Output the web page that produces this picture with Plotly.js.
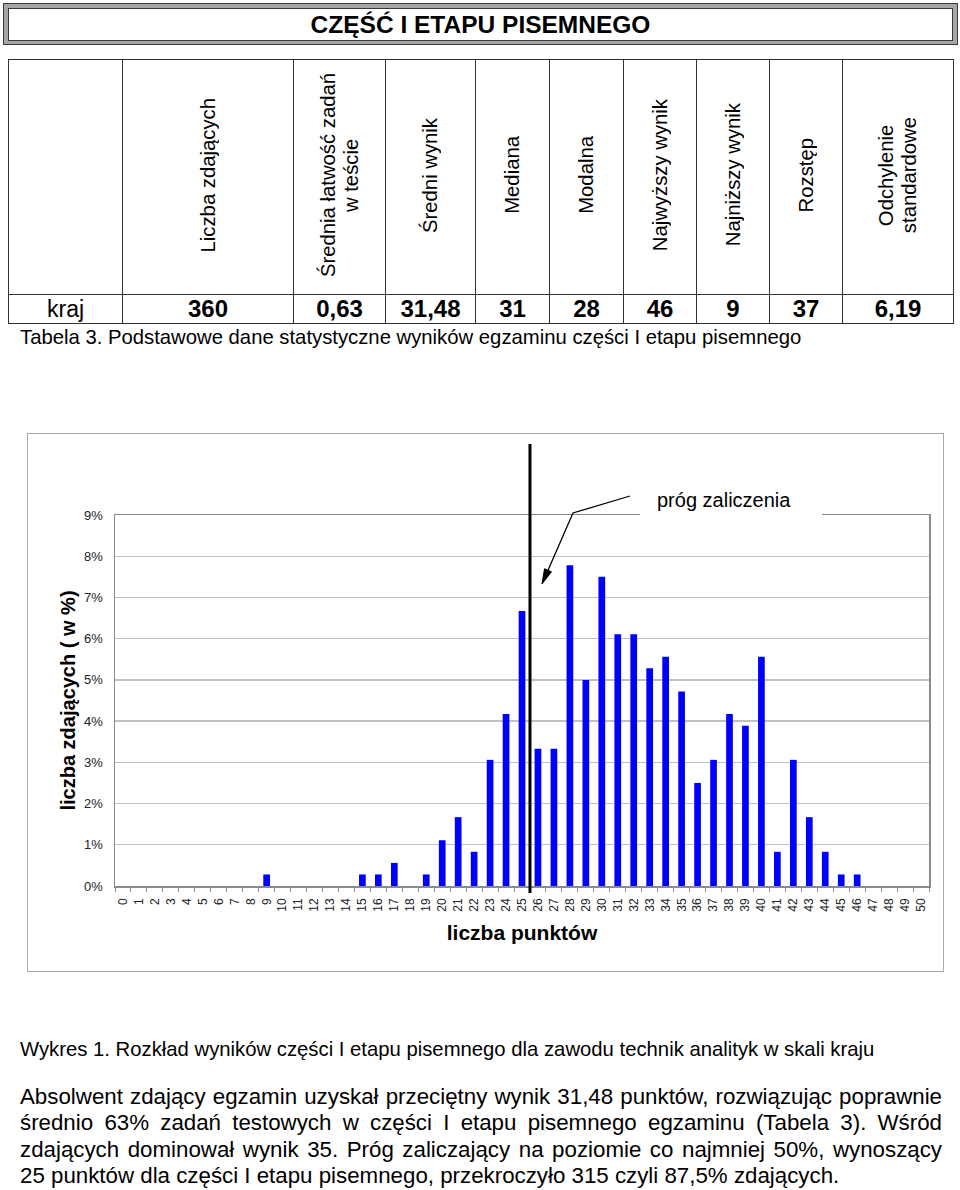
<!DOCTYPE html>
<html>
<head>
<meta charset="utf-8">
<script src="https://cdn.plot.ly/plotly-3.0.1.min.js"></script>
<style>
  html, body { margin:0; padding:0; }
  body { width:960px; height:1190px; position:relative; background:#fff; overflow:hidden;
         font-family:"Liberation Sans", Arial, sans-serif; color:#000; }
  .abs { position:absolute; }
  #hdrOuter { left:3px; top:3px; width:955px; height:42px; background:#a6a6a6;
              border:1px solid #3a3a3a; box-sizing:border-box; }
  #hdrInner { left:8px; top:8px; width:945px; height:33px; background:#fff;
              border:1px solid #3a3a3a; box-sizing:border-box; text-align:center;
              font-weight:bold; font-size:24.5px; line-height:31px; }
  #tbl { left:8px; top:59px; width:945px; border-collapse:collapse; table-layout:fixed; }
  #tbl td { border:1.5px solid #333; padding:0; text-align:center; vertical-align:middle; overflow:hidden; }
  #tbl tr.h td { height:234px; }
  #tbl tr.d td { height:28px; font-weight:bold; font-size:24px; line-height:28px; }
  #tbl tr.d td.lbl { font-weight:normal; font-size:23px; }
  .rot { display:inline-block; writing-mode:vertical-rl; transform:rotate(180deg);
         font-size:20.3px; line-height:23px; text-align:center; white-space:pre-line; }
  .txt { font-size:20.3px; line-height:26px; white-space:nowrap; }
  .ptxt { font-size:22.3px; line-height:26.3px; white-space:nowrap; }
  .jl { width:922px; text-align:justify; text-align-last:justify; }
  #chartWrap { left:27px; top:433px; width:917px; height:539px; }
  #chartBorder { left:27px; top:433px; width:917px; height:539px; box-sizing:border-box;
                 border:1.5px solid #a8a8a8; pointer-events:none; }
</style>
</head>
<body>
<div id="hdrOuter" class="abs"></div>
<div id="hdrInner" class="abs"></div>
<table id="tbl" class="abs"></table>
<div id="caption1" class="abs txt" style="left:20px; top:324px;"></div>
<div id="chartWrap" class="abs"></div>
<div id="chartBorder" class="abs"></div>
<div id="caption2" class="abs txt" style="left:20px; top:1036px;"></div>
<div id="para" class="abs" style="left:20px; top:1084px;"></div>

<script>
// ---------------- DATA ----------------
var sectionTitle = 'CZĘŚĆ I ETAPU PISEMNEGO';

var tableHeaders = [
  'Liczba zdających',
  'Średnia łatwość zadań\nw teście',
  'Średni wynik',
  'Mediana',
  'Modalna',
  'Najwyższy wynik',
  'Najniższy wynik',
  'Rozstęp',
  'Odchylenie\nstandardowe'
];
var tableRowLabel = 'kraj';
var tableValues = ['360', '0,63', '31,48', '31', '28', '46', '9', '37', '6,19'];
var tableCaption = 'Tabela 3. Podstawowe dane statystyczne wyników egzaminu części I etapu pisemnego';

var scores = [0,1,2,3,4,5,6,7,8,9,10,11,12,13,14,15,16,17,18,19,20,21,22,23,24,25,
              26,27,28,29,30,31,32,33,34,35,36,37,38,39,40,41,42,43,44,45,46,47,48,49,50];
var scoreLabels = ['0','1','2','3','4','5','6','7','8','9','10','11','12','13','14','15','16','17',
                   '18','19','20','21','22','23','24','25','26','27','28','29','30','31','32','33',
                   '34','35','36','37','38','39','40','41','42','43','44','45','46','47','48','49','50'];
// percentage of candidates (w %) per score
var percentShare = [0,0,0,0,0,0,0,0,0,0.28,
                    0,0,0,0,0,0.28,0.28,0.56,0,0.28,
                    1.11,1.67,0.83,3.06,4.17,6.67,3.33,3.33,7.78,5.00,
                    7.50,6.11,6.11,5.28,5.56,4.72,2.50,3.06,4.17,3.89,
                    5.56,0.83,3.06,1.67,0.83,0.28,0.28,0,0,0,
                    0];
var yTickVals = [0,1,2,3,4,5,6,7,8,9];
var yTickLabels = ['0%','1%','2%','3%','4%','5%','6%','7%','8%','9%'];
var passMark = 25;            // próg zaliczenia (punkty)
var passLabel = 'próg zaliczenia';
var xTitle = 'liczba punktów';
var yTitle = 'liczba zdających ( w %)';

var chartCaption = 'Wykres 1. Rozkład wyników części I etapu pisemnego dla zawodu technik analityk w skali kraju';
var paragraphLines = [
  'Absolwent zdający egzamin uzyskał przeciętny wynik 31,48 punktów, rozwiązując poprawnie',
  'średnio 63% zadań testowych w części I etapu pisemnego egzaminu (Tabela 3). Wśród',
  'zdających dominował wynik 35. Próg zaliczający na poziomie co najmniej 50%, wynoszący',
  '25 punktów dla części I etapu pisemnego, przekroczyło 315 czyli 87,5% zdających.'
];

// ---------------- HTML PARTS ----------------
document.getElementById('hdrInner').textContent = sectionTitle;

var colWidths = [114, 171, 92, 90, 74, 74, 73, 73, 73, 111];
var tbl = document.getElementById('tbl');
var cg = document.createElement('colgroup');
colWidths.forEach(function (w) { var c = document.createElement('col'); c.style.width = w + 'px'; cg.appendChild(c); });
tbl.appendChild(cg);
var trH = document.createElement('tr'); trH.className = 'h';
trH.appendChild(document.createElement('td'));
tableHeaders.forEach(function (h) {
  var td = document.createElement('td');
  var d = document.createElement('div'); d.className = 'rot'; d.textContent = h;
  td.appendChild(d); trH.appendChild(td);
});
tbl.appendChild(trH);
var trD = document.createElement('tr'); trD.className = 'd';
var tdL = document.createElement('td'); tdL.className = 'lbl'; tdL.textContent = tableRowLabel; trD.appendChild(tdL);
tableValues.forEach(function (v) { var td = document.createElement('td'); td.textContent = v; trD.appendChild(td); });
tbl.appendChild(trD);

document.getElementById('caption1').textContent = tableCaption;
document.getElementById('caption2').textContent = chartCaption;
var para = document.getElementById('para');
paragraphLines.forEach(function (line, i) {
  var d = document.createElement('div');
  d.className = 'ptxt' + (i < paragraphLines.length - 1 ? ' jl' : '');
  d.textContent = line;
  para.appendChild(d);
});

// ---------------- CHART ----------------
var xRange = [-0.5, 50.5];
// page-pixel -> paper helpers (plot area: left 115, top 515, 814 x 371 on the page)
var PA = { left: 115, top: 515, w: 814, h: 371 };
function pxX(X) { return (X - PA.left) / PA.w; }
function pxY(Y) { return (PA.top + PA.h - Y) / PA.h; }
function dataX(v) { return (v - xRange[0]) / (xRange[1] - xRange[0]); }

var passX = dataX(passMark + 0.5);

// arrow geometry (page px)
var arrowStart = [630, 496], arrowBend = [573, 513], arrowTip = [542, 584];
var dx = arrowTip[0] - arrowBend[0], dy = arrowTip[1] - arrowBend[1];
var len = Math.sqrt(dx * dx + dy * dy), ux = dx / len, uy = dy / len;
var headLen = 15, headHalf = 3.8;
var bx = arrowTip[0] - ux * headLen, by = arrowTip[1] - uy * headLen;
var p1 = [bx - uy * headHalf, by + ux * headHalf], p2 = [bx + uy * headHalf, by - ux * headHalf];
function P(pt) { return pxX(pt[0]).toFixed(5) + ',' + pxY(pt[1]).toFixed(5); }

var trace = {
  type: 'bar',
  x: scores,
  y: percentShare,
  marker: { color: '#0000ff', line: { width: 0 } },
  hoverinfo: 'x+y'
};

var layout = {
  width: 917, height: 539,
  margin: { l: 88, r: 15, t: 82, b: 86, pad: 0 },
  paper_bgcolor: 'rgba(0,0,0,0)',
  plot_bgcolor: '#ffffff',
  font: { family: 'Liberation Sans, Arial, sans-serif', color: '#000' },
  showlegend: false,
  bargap: 0.58,
  xaxis: {
    range: xRange,
    tickmode: 'array', tickvals: scores, ticktext: scoreLabels,
    tickangle: -90, tickfont: { size: 12, color: '#222' },
    ticks: '', ticklabelstandoff: 6,
    minor: { ticks: 'outside', tick0: -0.5, dtick: 1, ticklen: 4, tickcolor: '#8a8a8a', tickwidth: 1, showgrid: false },
    showline: true, mirror: true, linecolor: '#8a8a8a', linewidth: 1.5,
    showgrid: false, zeroline: false, fixedrange: true,
    title: { text: '<b>' + xTitle + '</b>', font: { size: 21, color: '#000' }, standoff: 14 }
  },
  yaxis: {
    range: [0, 9],
    tickmode: 'array', tickvals: yTickVals, ticktext: yTickLabels,
    tickfont: { size: 13, color: '#222' },
    ticks: '', ticklabelstandoff: 8,
    showline: true, mirror: true, linecolor: '#8a8a8a', linewidth: 1.5,
    showgrid: true, gridcolor: '#c0c0c0', gridwidth: 1.3,
    zeroline: false, fixedrange: true,
    title: { text: '<b>' + yTitle + '</b>', font: { size: 20, color: '#000' }, standoff: 3 }
  },
  shapes: [
    { type: 'rect', xref: 'paper', yref: 'paper', layer: 'above',
      x0: pxX(640), x1: pxX(822), y0: pxY(518), y1: pxY(484),
      fillcolor: '#ffffff', line: { width: 0 } },
    { type: 'line', xref: 'paper', yref: 'paper', x0: passX, x1: passX, y0: pxY(893), y1: pxY(444),
      line: { color: '#000', width: 3 } },
    { type: 'path', xref: 'paper', yref: 'paper',
      path: 'M' + P(arrowStart) + ' L' + P(arrowBend) + ' L' + P([bx, by]),
      line: { color: '#000', width: 1.3 } },
    { type: 'path', xref: 'paper', yref: 'paper',
      path: 'M' + P(arrowTip) + ' L' + P(p1) + ' L' + P(p2) + ' Z',
      fillcolor: '#000', line: { color: '#000', width: 1 } }
  ],
  annotations: [
    { xref: 'paper', yref: 'paper', x: pxX(724), y: pxY(500), xanchor: 'center', yanchor: 'middle',
      text: passLabel, showarrow: false, font: { size: 20, color: '#000' } }
  ]
};

Plotly.newPlot('chartWrap', [trace], layout, { displayModeBar: false, staticPlot: true });
</script>
</body>
</html>
